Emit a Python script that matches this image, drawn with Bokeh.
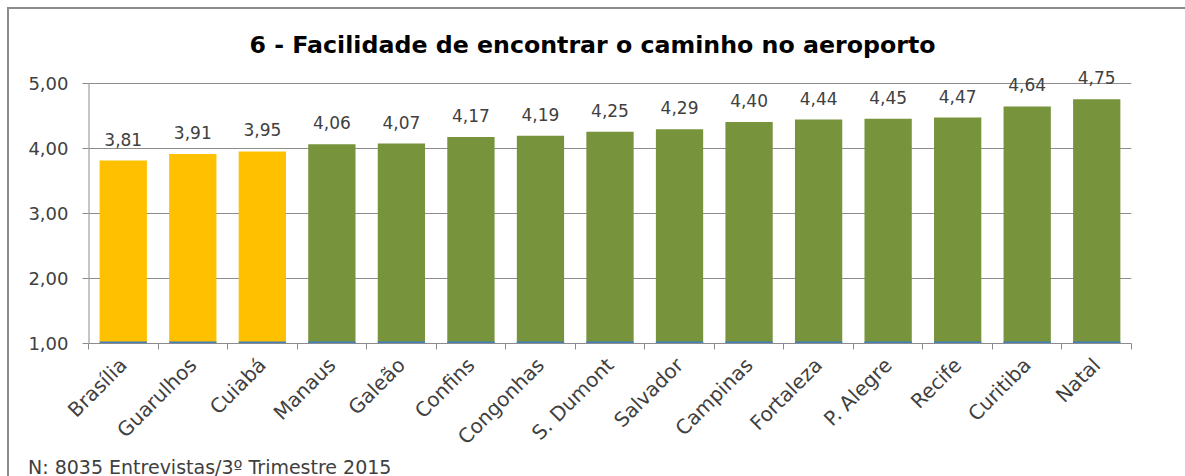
import math
from bokeh.plotting import figure
from bokeh.layouts import column
from bokeh.models import (ColumnDataSource, FixedTicker, LabelSet, Range1d, Title, Div)
from bokeh.core.properties import value
from bokeh.embed import file_html
from bokeh.resources import INLINE

categories = ["Brasília", "Guarulhos", "Cuiabá", "Manaus", "Galeão", "Confins",
              "Congonhas", "S. Dumont", "Salvador", "Campinas", "Fortaleza",
              "P. Alegre", "Recife", "Curitiba", "Natal"]
values = [3.81, 3.91, 3.95, 4.06, 4.07, 4.17, 4.19, 4.25, 4.29, 4.40, 4.44,
          4.45, 4.47, 4.64, 4.75]
groups = ["low", "low", "low"] + ["high"] * 12
y_ticks = [1, 2, 3, 4, 5]
title_text = "6 - Facilidade de encontrar o caminho no aeroporto"
footer_text = "N: 8035 Entrevistas/3º Trimestre 2015"

YELLOW = "#FFC000"
GREEN = "#77933C"
BLUE = "#3F7FC0"
GRAY = "#8c8c8c"
FONT = "DejaVu Sans"
TXT = "#404040"

xs = [i + 0.5 for i in range(len(categories))]
colors = [YELLOW if g == "low" else GREEN for g in groups]
labels = [f"{v:.2f}".replace(".", ",") for v in values]
src = ColumnDataSource(dict(x=xs, top=values, color=colors, label=labels,
                            x0=[x - 0.34 for x in xs], x1=[x + 0.34 for x in xs],
                            base=[1.0] * len(xs)))

p = figure(width=1176, height=451, output_backend="svg", toolbar_location=None,
           x_range=Range1d(0, len(categories)), y_range=Range1d(1, 5.3),
           min_border_left=79, min_border_right=54, min_border_top=54,
           min_border_bottom=116)
p.outline_line_color = None

p.vbar(x="x", top="top", bottom=1, width=0.68, fill_color="color",
       line_color=None, source=src)
p.segment(x0="x0", x1="x1", y0="base", y1="base", line_color=BLUE,
          line_width=4, source=src)
# y axis line only up to the top tick
p.segment(x0=[0], x1=[0], y0=[y_ticks[0]], y1=[y_ticks[-1]], line_color=GRAY,
          line_width=2)

ls = LabelSet(x="x", y="top", text="label", source=src, text_align="center",
              text_baseline="alphabetic", y_offset=15, text_font=value(FONT),
              text_font_size=value("17px"), text_color=TXT)
p.add_layout(ls)

# axes
xa = p.xaxis[0]
xa.ticker = FixedTicker(ticks=xs, minor_ticks=list(range(len(categories) + 1)))
xa.major_label_overrides = {x: c for x, c in zip(xs, categories)}
xa.major_label_orientation = math.pi / 4
xa.major_tick_out = 0
xa.major_tick_in = 0
xa.minor_tick_out = 6
xa.minor_tick_in = 0
xa.minor_tick_line_color = GRAY
xa.axis_line_color = GRAY
xa.major_label_text_font = FONT
xa.major_label_text_font_size = "20px"
xa.major_label_text_color = TXT
xa.major_label_standoff = 12

ya = p.yaxis[0]
ya.ticker = FixedTicker(ticks=y_ticks)
ya.major_label_overrides = {t: f"{t:.2f}".replace(".", ",") for t in y_ticks}
ya.major_tick_out = 6
ya.major_tick_in = 0
ya.minor_tick_out = 0
ya.minor_tick_in = 0
ya.major_tick_line_color = GRAY
ya.axis_line_color = None
ya.major_label_text_font = FONT
ya.major_label_text_font_size = "18px"
ya.major_label_text_color = TXT
ya.major_label_standoff = 14

p.xgrid.grid_line_color = None
p.ygrid.ticker = FixedTicker(ticks=y_ticks)
p.ygrid.grid_line_color = GRAY

t = Title(text=title_text, align="left", offset=161, text_font=FONT,
          text_font_size="23.7px", text_font_style="bold", text_color="black",
          standoff=10)
p.add_layout(t, "above")

foot = Div(text=footer_text, width=600, height=16,
           styles={"font-family": FONT, "font-size": "19px", "color": TXT,
                   "line-height": "19px", "white-space": "nowrap",
                   "margin-left": "19px", "position": "relative", "top": "-7px",
                   "overflow": "visible"})

layout = column(p, foot, spacing=0,
                styles={"margin-left": "7px", "margin-top": "7px",
                        "border-left": f"2px solid {GRAY}",
                        "border-top": f"2px solid {GRAY}"})

open("out.html", "w").write(file_html(layout, INLINE))
